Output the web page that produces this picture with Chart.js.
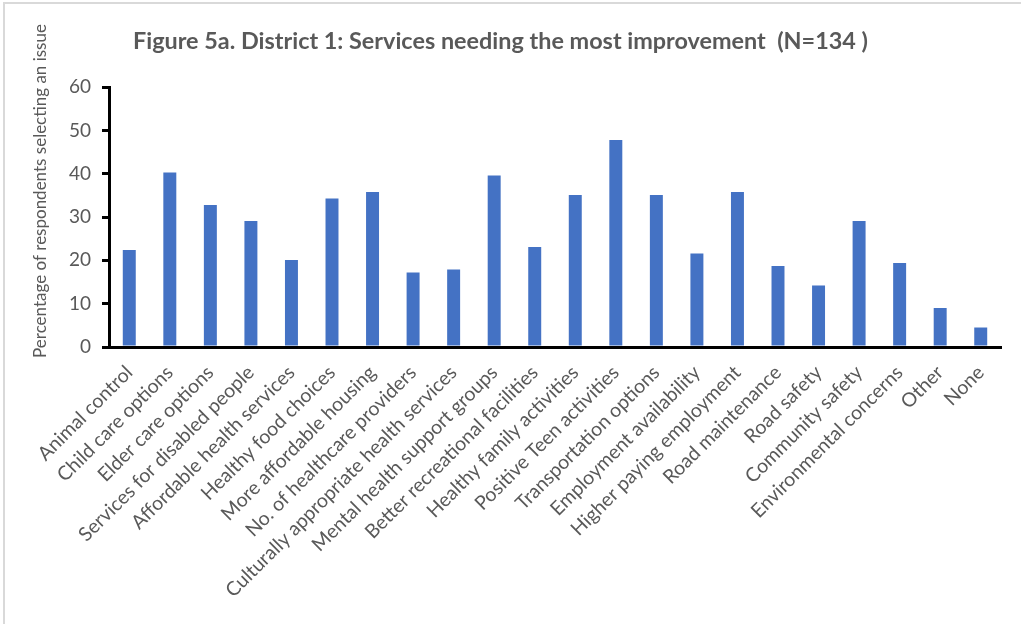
<!DOCTYPE html>
<html><head><meta charset="utf-8">
<script src="https://cdn.jsdelivr.net/npm/chart.js@4"></script>
<style>
html,body{margin:0;padding:0;background:#fff;}
#wrap{position:relative;width:1021px;height:624px;overflow:hidden;background:#fff;}
#frame{position:absolute;left:3px;top:2px;width:1060px;height:660px;border:2px solid #d9d9d9;box-sizing:border-box;pointer-events:none;}
canvas{position:absolute;left:0;top:0;}
</style></head>
<body><div id="wrap"><canvas id="c" width="1021" height="624" style="width:1021px;height:624px"></canvas><div id="frame"></div></div>
<script>
const categories = [
  'Animal control', 'Child care options', 'Elder care options', 'Services for disabled people',
  'Affordable health services', 'Healthy food choices', 'More affordable housing',
  'No. of healthcare providers', 'Culturally appropriate health services',
  'Mental health support groups', 'Better recreational facilities', 'Healthy family activities',
  'Positive Teen activities', 'Transportation options', 'Employment availability',
  'Higher paying employment', 'Road maintenance', 'Road safety', 'Community safety',
  'Environmental concerns', 'Other', 'None'
];
const percentages = [22.4, 40.3, 32.8, 29.1, 20.1, 34.3, 35.8, 17.2, 17.9, 39.6, 23.1,
  35.1, 47.8, 35.1, 21.6, 35.8, 18.7, 14.2, 29.1, 19.4, 9.0, 4.5];
const yTicks = [0, 10, 20, 30, 40, 50, 60];
const chartTitle = 'Figure 5a. District 1: Services needing the most improvement  (N=134 )';
const yAxisTitle = 'Percentage of respondents selecting an issue';

const GRAY = '#595959';
const FONT = 'Lato';

const yTitlePlugin = {
  id: 'yTitle',
  afterDraw(chart) {
    const ctx = chart.ctx;
    ctx.save();
    ctx.translate(41, 191);
    ctx.rotate(-Math.PI / 2);
    ctx.fillStyle = GRAY;
    ctx.font = '17px ' + FONT;
    ctx.textAlign = 'center';
    ctx.textBaseline = 'middle';
    ctx.fillText(yAxisTitle, 0, 0);
    ctx.restore();
  }
};

new Chart(document.getElementById('c'), {
  type: 'bar',
  data: {
    labels: categories,
    datasets: [{
      label: 'Percentage',
      data: percentages,
      backgroundColor: '#4472C4',
      borderWidth: 0,
      categoryPercentage: 1,
      barPercentage: 0.32
    }]
  },
  plugins: [yTitlePlugin],
  options: {
    responsive: false,
    animation: false,
    layout: { padding: { left: 0, right: 20, top: 0, bottom: 0 } },
    plugins: {
      legend: { display: false },
      tooltip: { enabled: false },
      title: {
        display: true,
        text: chartTitle,
        color: GRAY,
        font: { family: FONT, size: 23.4, weight: 'bold' },
        padding: { top: 27, bottom: 32 }
      }
    },
    scales: {
      x: {
        afterFit(s) { s.height = 277; },
        grid: { display: true, drawOnChartArea: false, drawTicks: false },
        border: { display: true, color: '#000', width: 3 },
        ticks: {
          color: GRAY,
          font: { family: FONT, size: 19.5 },
          minRotation: 45,
          maxRotation: 45,
          autoSkip: false,
          padding: 14
        }
      },
      y: {
        min: 0,
        max: 60,
        afterFit(s) { s.width = 109; },
        afterBuildTicks(s) { s.ticks = yTicks.map(v => ({ value: v })); },
        grid: { display: true, drawOnChartArea: false, drawTicks: true, tickLength: 7, color: '#000', lineWidth: 3 },
        border: { display: true, color: '#000', width: 3 },
        ticks: {
          color: GRAY,
          font: { family: FONT, size: 19 },
          padding: 11
        }
      }
    }
  }
});
</script>
</body></html>
